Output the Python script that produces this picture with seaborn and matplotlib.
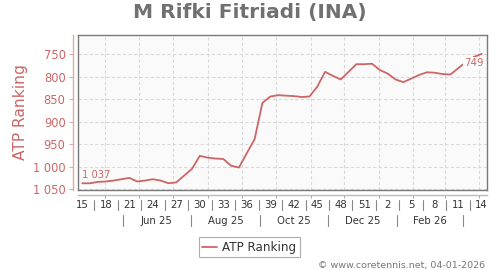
import numpy as np
import pandas as pd
import matplotlib
matplotlib.use("Agg")
import matplotlib.pyplot as plt
import matplotlib.dates as mdates
import matplotlib.transforms as mtransforms
from matplotlib.lines import Line2D
import seaborn as sns

# ---------------- data ----------------
title = "M Rifki Fitriadi (INA)"
series_name = "ATP Ranking"
start_date = "2025-04-11"
ranks = [1037, 1037, 1034, 1033, 1031, 1028, 1025, 1033, 1031, 1028,
         1031, 1037, 1035, 1020, 1005, 976, 980, 982, 983, 998,
         1002, 970, 939, 858, 844, 841, 842, 843, 845, 844,
         822, 789, 798, 806, 789, 772, 772, 771, 785, 793,
         806, 812, 804, 796, 790, 791, 794, 795, 781, 767,
         756, 749]
week_labels = ["15", "18", "21", "24", "27", "30", "33", "36", "39", "42",
               "45", "48", "51", "2", "5", "8", "11", "14"]
month_labels = ["Jun 25", "Aug 25", "Oct 25", "Dec 25", "Feb 26"]
month_separators = ["2025-05-17", "2025-07-17", "2025-09-17", "2025-11-17",
                    "2026-01-17", "2026-03-17"]
y_ticks = [750, 800, 850, 900, 950, 1000, 1050]
y_tick_labels = ["750", "800", "850", "900", "950", "1 000", "1 050"]
first_label = "1 037"
last_label = "749"
footer = "\u00a9 www.coretennis.net, 04-01-2026"

# ---------------- styling ----------------
RED = "#cc6666"
RED_LIGHT = "#ddaaaa"
FRAME = "#7a7a7a"
GRID = "#d9d9d9"
W, H = 500, 270
L, R, T, B = 78.3, 487.3, 35.3, 190.0

dates = pd.date_range(start_date, periods=len(ranks), freq="7D")
df = pd.DataFrame({"x": mdates.date2num(dates), "rank": ranks})

sns.set_theme(style="white")
plt.rcParams["font.family"] = ["DejaVu Sans"]

fig = plt.figure(figsize=(W / 100, H / 100), dpi=100)
fig.patch.set_facecolor("white")
ax = fig.add_axes([L / W, 1 - B / H, (R - L) / W, (B - T) / H])
ax.set_facecolor("#fafafa")

sns.lineplot(data=df, x="x", y="rank", ax=ax, color=RED, linewidth=1.3,
             label=series_name, zorder=3)

x0 = df["x"].iloc[0]
ax.set_xlim(x0 - 3.6, x0 + 362)
ax.set_ylim(1052, 707.7)

month_starts = mdates.date2num(pd.date_range("2025-05-01", "2026-04-01", freq="MS"))
ax.set_xticks(month_starts)
ax.set_yticks(y_ticks)
ax.grid(True, color=GRID, linestyle=(0, (3, 2)), linewidth=0.8)
ax.tick_params(left=False, bottom=False, labelleft=False, labelbottom=False)
ax.set_xlabel("")
ax.set_ylabel("")
for s in ax.spines.values():
    s.set_visible(True)
    s.set_color(FRAME)
    s.set_linewidth(1.0)

# red y axis offset to the left
secy = ax.secondary_yaxis(-5 / (R - L))
secy.set_yticks(y_ticks, labels=y_tick_labels)
secy.spines["left"].set_color(RED_LIGHT)
secy.spines["left"].set_linewidth(1.0)
secy.tick_params(axis="y", colors=RED_LIGHT, labelcolor=RED, length=3,
                 width=0.8, labelsize=8.3, pad=2.6)

# lower x axis line with month ticks
secx = ax.secondary_xaxis(-5 / (B - T))
secx.set_xticks(month_starts)
secx.spines["bottom"].set_color("#bbbbbb")
secx.spines["bottom"].set_linewidth(1.0)
secx.tick_params(axis="x", colors="#aaaaaa", length=2.5, width=0.8,
                 labelbottom=False)

# week and month label rows
blend = mtransforms.blended_transform_factory(ax.transData, fig.transFigure)
label_x = df["x"].iloc[::3].to_numpy()
for xv, lab in zip(label_x, week_labels):
    ax.text(xv, 1 - 205 / H, lab, transform=blend, ha="center", va="center",
            fontsize=7.3, color="#333333", clip_on=False)
week_seps = (label_x[:-1] + label_x[1:]) / 2
for xv in week_seps:
    ax.add_line(Line2D([xv, xv], [1 - 200 / H, 1 - 210 / H], transform=blend,
                       color="#888888", linewidth=0.8, clip_on=False))
msep = mdates.date2num(pd.to_datetime(month_separators))
for xv in msep:
    ax.add_line(Line2D([xv, xv], [1 - 214.5 / H, 1 - 226 / H], transform=blend,
                       color="#888888", linewidth=0.8, clip_on=False))
mcent = (msep[:-1] + msep[1:]) / 2
for xv, lab in zip(mcent, month_labels):
    ax.text(xv, 1 - 220.5 / H, lab, transform=blend, ha="center", va="center",
            fontsize=7.3, color="#333333", clip_on=False)
ax.set_xlim(x0 - 3.6, x0 + 362)
ax.set_ylim(1052, 707.7)

# point labels
ax.annotate(first_label, (df["x"].iloc[0], ranks[0]), xytext=(0, 6),
            textcoords="offset points", ha="left", va="center",
            fontsize=7.2, color=RED, zorder=4)
ax.annotate(last_label, (df["x"].iloc[-1], ranks[-1]), xytext=(1.5, -6.8),
            textcoords="offset points", ha="right", va="center",
            fontsize=7.4, color=RED, zorder=4,
            bbox=dict(facecolor="white", edgecolor="none", pad=1.0))

# legend
leg = ax.legend(loc="center", bbox_to_anchor=(249.4 / W, 1 - 247.4 / H),
                bbox_transform=fig.transFigure, frameon=True, fancybox=False,
                edgecolor="#999999", fontsize=8.6, handlelength=1.2,
                handletextpad=0.45, borderpad=0.3, borderaxespad=0)
leg.get_frame().set_linewidth(0.8)
for t in leg.get_texts():
    t.set_color("#333333")

# title, y label, footer
fig.text(250 / W, 1 - 12.5 / H, title, ha="center", va="center",
         fontsize=14.5, fontweight="bold", color="#707070")
fig.text(20.5 / W, 1 - 112.5 / H, series_name, ha="center", va="center",
         rotation=90, fontsize=11.2, color=RED)
fig.text(485 / W, 1 - 265.7 / H, footer, ha="right", va="center",
         fontsize=6.8, color="#777777")

fig.savefig("out.png", dpi=100)
